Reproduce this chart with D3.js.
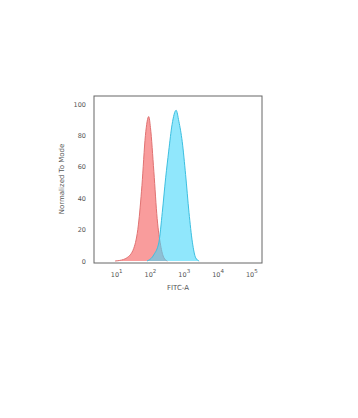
<!DOCTYPE html>
<html lang="en">
<head>
<meta charset="UTF-8">
<title>FITC-A histogram</title>
<script src="https://cdn.jsdelivr.net/npm/d3@7"></script>
<style>
  body { margin: 0; background: #fff; }
  text { font-family: "DejaVu Sans", sans-serif; fill: #555; }
</style>
</head>
<body>
<div id="chart"></div>
<script>
// control (red) and stained (blue) histograms
const redX = [9, 16, 20, 32, 44, 56, 71, 89, 100, 126, 158, 200, 251, 316];
const redY = [0, 1, 2, 8, 23, 48, 80, 92, 85, 57, 27, 10, 2, 0];
const blueX = [79, 126, 178, 224, 282, 347, 437, 575, 692, 871, 1096, 1380, 1738, 2188, 2754];
const blueY = [0, 4, 12, 31, 53, 70, 87, 96, 89, 76, 55, 31, 12, 2, 0];
const xTicks = [1, 2, 3, 4, 5];
const yTicks = [0, 20, 40, 60, 80, 100];

const W = 358, H = 418;
const plot = { left: 94, right: 262, top: 96, bottom: 263 };

const svg = d3.select("#chart").append("svg")
    .attr("width", W).attr("height", H);

const x = d3.scaleLog()
    .domain([Math.pow(10, 0.33), Math.pow(10, 5.3)])
    .range([plot.left, plot.right]);
const y = d3.scaleLinear()
    .domain([0, 100])
    .range([261, 104]);

const area = d3.area()
    .x(d => x(d[0]))
    .y0(y(0))
    .y1(d => y(d[1]))
    .curve(d3.curveMonotoneX);
const line = d3.line()
    .x(d => x(d[0]))
    .y(d => y(d[1]))
    .curve(d3.curveMonotoneX);

const red = d3.zip(redX, redY);
const blue = d3.zip(blueX, blueY);

svg.append("path").datum(red)
    .attr("d", area)
    .attr("fill", "rgba(245,90,90,0.6)");
svg.append("path").datum(red)
    .attr("d", line)
    .attr("fill", "none")
    .attr("stroke", "#e07272")
    .attr("stroke-width", 1);

svg.append("path").datum(blue)
    .attr("d", area)
    .attr("fill", "rgba(70,215,250,0.6)");
svg.append("path").datum(blue)
    .attr("d", line)
    .attr("fill", "none")
    .attr("stroke", "#3cbfe0")
    .attr("stroke-width", 1);

// frame
svg.append("rect")
    .attr("x", plot.left).attr("y", plot.top)
    .attr("width", plot.right - plot.left).attr("height", plot.bottom - plot.top)
    .attr("fill", "none")
    .attr("stroke", "#666")
    .attr("stroke-width", 1);

// y tick labels
svg.selectAll(".ytick").data(yTicks).enter().append("text")
    .attr("class", "ytick")
    .attr("x", 86)
    .attr("y", d => y(d) + 2.5)
    .attr("text-anchor", "end")
    .attr("font-size", 6.5)
    .text(d => d);

// x tick labels 10^n
const xt = svg.selectAll(".xtick").data(xTicks).enter().append("text")
    .attr("class", "xtick")
    .attr("x", d => x(Math.pow(10, d)))
    .attr("y", 277)
    .attr("text-anchor", "middle")
    .attr("font-size", 6.5);
xt.append("tspan").text("10");
xt.append("tspan").attr("dy", -4).attr("font-size", 5.5).text(d => d);

// axis titles
svg.append("text")
    .attr("x", (plot.left + plot.right) / 2)
    .attr("y", 290)
    .attr("text-anchor", "middle")
    .attr("font-size", 7)
    .text("FITC-A");

svg.append("text")
    .attr("transform", "translate(64,179) rotate(-90)")
    .attr("text-anchor", "middle")
    .attr("font-size", 7)
    .text("Normalized To Mode");
</script>
</body>
</html>
